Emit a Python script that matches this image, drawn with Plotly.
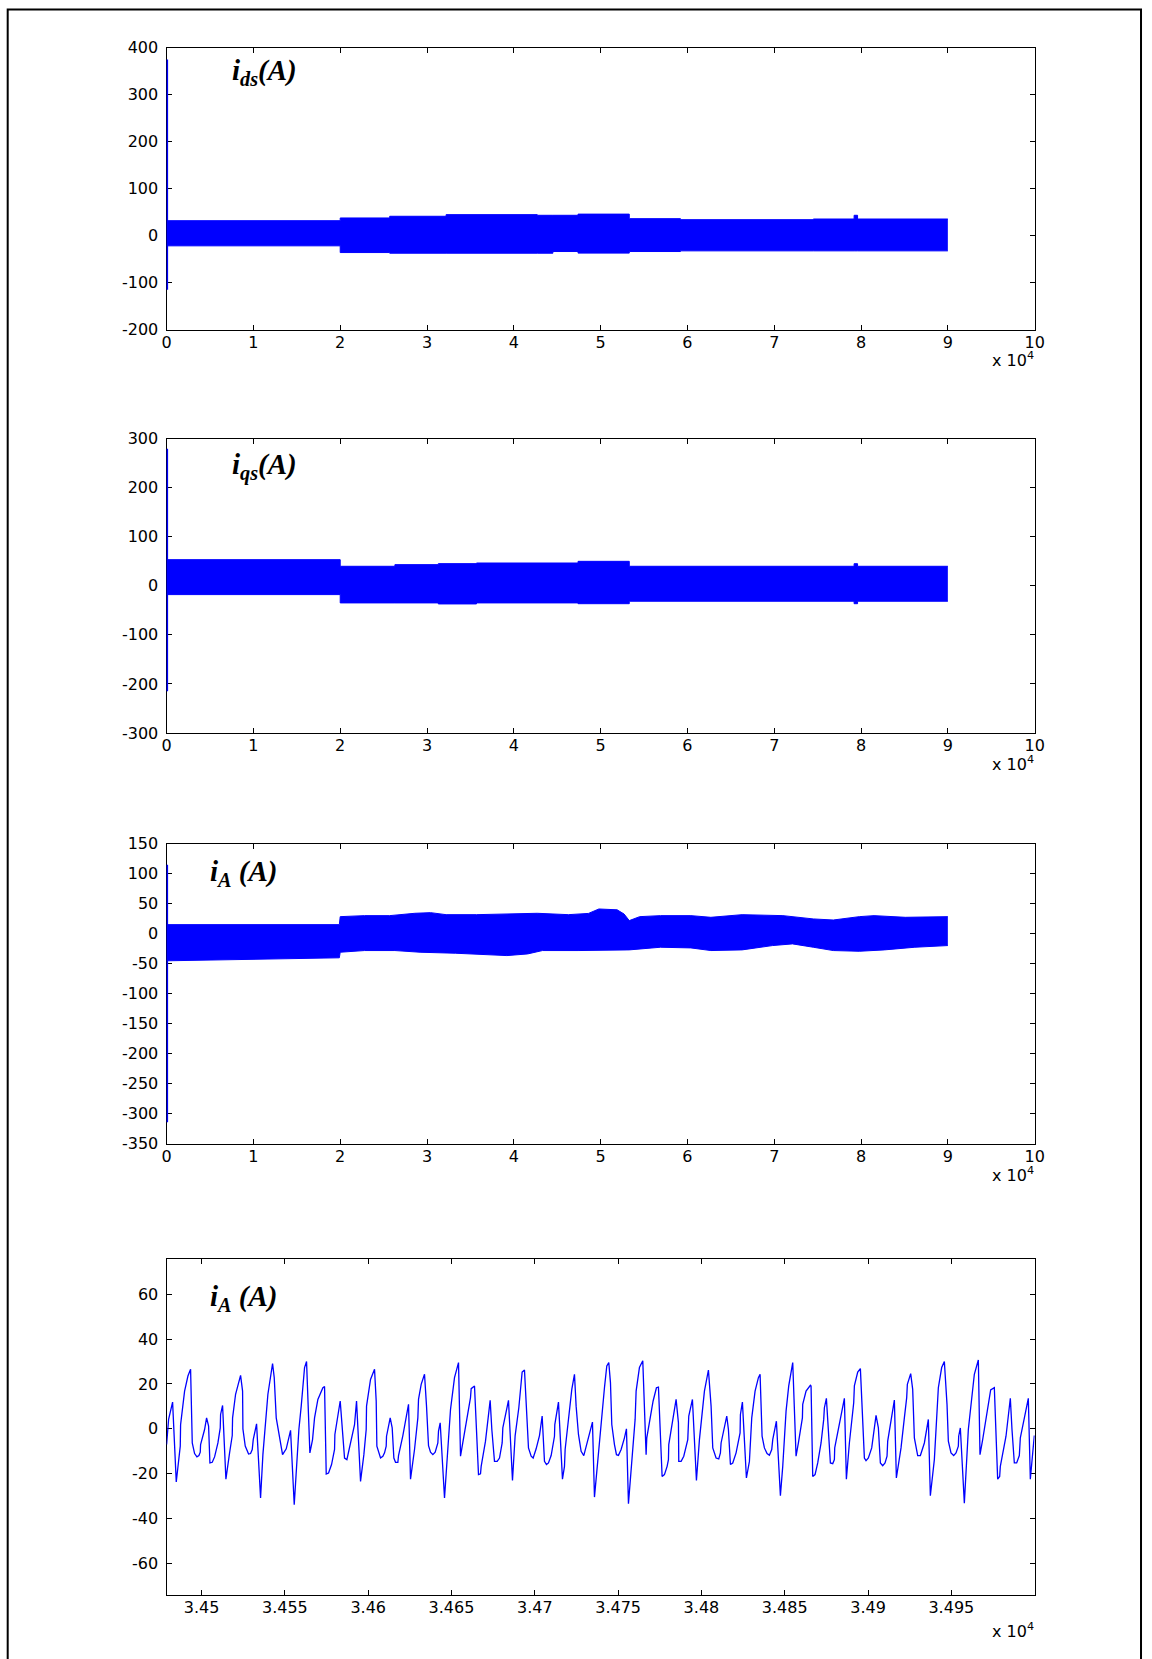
import plotly.graph_objects as go

# ---------------- data ----------------
# panel 1 : i_ds envelope of the dense oscillation (samples, A)
ids_x  = [0, 20000, 25700, 32200, 42700, 44500, 47400, 53300, 59200, 74500, 79200, 79600, 90000]
ids_hi = [32.0, 37.8, 41.4, 44.9, 43.5, 43.5, 46.0, 36.3, 34.2, 35.6, 43.5, 35.6, 35.6]
ids_lo = [-21.5, -35.8, -37.2, -37.2, -37.2, -33.6, -37.0, -33.6, -32.2, -32.2, -32.2, -32.2, -32.2]
ids_spike = [-115, 375]

# panel 2 : i_qs envelope
iqs_x  = [0, 20000, 26300, 31300, 35700, 47400, 53300, 79200, 79600, 90000]
iqs_hi = [53.2, 39.7, 43.1, 45.1, 46.4, 49.8, 39.7, 45.0, 39.7, 39.7]
iqs_lo = [-18.0, -34.9, -34.9, -37.0, -34.9, -36.5, -31.5, -36.5, -31.5, -31.5]
iqs_spike = [-215, 279]

# panel 3 : i_A envelope
iA_hi_x = [0, 19900, 20000, 22800, 25700, 28600, 30400, 32200, 35700, 39200, 42700, 46300,
           48600, 49800, 51900, 52700, 53300, 54500, 56900, 60400, 62700, 66300, 71000,
           74500, 76800, 79800, 81500, 85100, 88600, 90000]
iA_hi = [15.3, 15.3, 28.6, 30.3, 30.3, 34.2, 35.3, 31.9, 31.9, 33.1, 34.2, 31.9,
         34.0, 41.4, 40.0, 33.0, 22.0, 28.6, 30.3, 30.3, 27.5, 31.9, 30.3,
         24.8, 23.0, 28.6, 30.3, 27.5, 27.5, 28.6]
iA_lo_x = [0, 19900, 20000, 22800, 26300, 29200, 33300, 35700, 39200, 41600, 43300, 47400,
           51000, 53300, 56900, 60400, 62700, 66300, 69800, 72100, 74500, 76800, 79800,
           82700, 86200, 90000]
iA_lo = [-45.0, -40.0, -30.7, -27.9, -27.9, -30.7, -32.4, -33.5, -36.3, -33.5, -27.9, -27.9,
         -26.8, -26.8, -22.4, -23.5, -27.9, -26.8, -19.6, -16.8, -22.4, -27.9, -29.1,
         -26.8, -22.4, -19.6]
iA_spike = [-314, 115]

# panel 4 : zoom of i_A (sample index, A)
t_zoom = [34479.0, 34480.2, 34482.6, 34484.8, 34487.2, 34487.4, 34489.8, 34491.8, 34493.4, 34493.8,
          34494.4, 34495.8, 34497.2, 34498.4, 34499.2, 34499.4, 34501.8, 34503.0, 34504.2, 34505.0,
          34506.4, 34507.8, 34509.8, 34511.2, 34511.4, 34512.6, 34514.6, 34516.8, 34518.4, 34518.6,
          34520.4, 34523.4, 34524.6, 34524.8, 34526.2, 34528.2, 34529.4, 34530.4, 34531.0, 34533.0,
          34535.4, 34536.8, 34539.8, 34542.6, 34543.6, 34544.8, 34547.4, 34548.6, 34550.8, 34553.4,
          34555.6, 34558.4, 34559.8, 34561.8, 34563.0, 34565.0, 34566.6, 34567.8, 34569.8, 34572.8,
          34573.8, 34574.8, 34576.2, 34578.0, 34579.8, 34580.0, 34583.2, 34584.4, 34585.8, 34587.2,
          34589.0, 34591.8, 34593.0, 34595.4, 34597.4, 34598.8, 34599.0, 34601.4, 34603.8, 34604.8,
          34605.2, 34607.4, 34608.8,
          34609.8, 34610.8, 34611.0, 34613.2, 34614.4, 34615.4, 34616.4, 34617.8, 34618.2, 34620.8,
          34623.0, 34624.2, 34625.4, 34627.8, 34629.8, 34630.2, 34631.8, 34633.8, 34635.0, 34636.2,
          34637.4, 34638.8, 34640.2, 34641.8, 34642.2, 34643.2, 34645.8, 34649.4, 34651.8, 34654.2,
          34655.4, 34656.8, 34659.4, 34661.4, 34661.8, 34663.8, 34666.2, 34667.4, 34667.8, 34670.4,
          34673.2, 34674.2, 34675.8, 34677.4, 34678.8, 34680.4, 34680.8, 34684.2, 34686.6, 34688.2,
          34690.4, 34692.4, 34693.8, 34696.2, 34697.8, 34699.0, 34700.8, 34702.8, 34704.4, 34705.8,
          34707.0, 34708.2, 34709.8, 34711.8, 34712.0, 34714.2, 34716.6, 34717.8, 34718.2, 34720.2,
          34722.2, 34723.8, 34724.8, 34726.2, 34727.8, 34729.4, 34731.8, 34734.6, 34735.8, 34738.8,
          34741.8,
          34743.2, 34744.4, 34745.4, 34746.2, 34747.8, 34749.0, 34750.2, 34751.8, 34753.8, 34755.0,
          34756.2, 34758.2, 34760.2, 34760.8, 34762.8, 34764.8, 34766.8, 34767.2, 34769.0, 34771.0,
          34773.0, 34774.2, 34776.4, 34777.8, 34779.4, 34780.2, 34780.4, 34784.8, 34786.2, 34786.4,
          34787.8, 34789.4, 34791.8, 34792.4, 34794.6, 34797.0, 34798.8, 34801.8, 34804.2, 34805.8,
          34806.8, 34808.8, 34810.4, 34811.4, 34811.8, 34815.2, 34816.2, 34817.4, 34818.8, 34820.8,
          34823.2, 34823.4, 34824.6, 34827.0, 34828.8, 34830.2, 34832.2, 34834.2, 34835.2, 34836.4,
          34837.8, 34839.4, 34840.8, 34842.2, 34842.8, 34845.0, 34847.4, 34848.8, 34850.8, 34852.4,
          34854.8, 34856.8, 34858.2, 34860.6, 34860.8, 34862.8, 34865.4, 34865.8, 34866.8, 34868.2,
          34869.8, 34871.8, 34873.4, 34873.8, 34875.0, 34877.4, 34878.8, 34879.8, 34880.0, 34882.8,
          34885.8, 34887.0, 34888.8, 34891.4, 34891.8, 34893.8, 34895.4, 34897.8, 34898.8, 34900.2,
          34902.2, 34904.8, 34906.2, 34907.4, 34908.8, 34910.2, 34911.4, 34911.8, 34915.8, 34917.0,
          34919.8, 34921.8, 34923.2, 34923.6, 34925.6, 34926.8, 34927.8, 34929.8, 34931.4, 34933.8,
          34936.2, 34937.4, 34939.8, 34942.2, 34944.2, 34945.8, 34947.4, 34948.2, 34949.8, 34951.4,
          34952.8, 34954.2, 34954.4, 34955.4, 34957.8, 34960.2, 34961.8, 34963.8, 34966.2, 34967.2,
          34968.8, 34971.2, 34973.2, 34973.6, 34975.8, 34977.8, 34979.0, 34979.4, 34982.8, 34985.4,
          34986.4, 34987.8, 34989.2, 34990.8, 34991.4, 34993.8, 34996.2, 34997.4, 34999.2, 34999.8]
iA_zoom = [-7.0, 4.2, 11.9, -23.7, -7.7, 1.9, 16.8, 23.5, 26.5, 11.6,
           -6.3, -11.0, -12.5, -11.9, -10.4, -7.0, -0.3, 4.9, 1.2, -15.2,
           -14.9, -12.5, -6.3, 0.4, 6.4, 10.4, -22.4, -10.7, -3.0, 4.9,
           15.4, 23.8, 16.8, 0.0, -7.7, -11.2, -11.0, -9.2, -4.8, 2.2,
           -30.8, -11.5, 15.4, 29.1, 22.8, 4.9, -7.7, -11.5, -8.9, -0.7,
           -33.8, -0.3, 10.1, 27.3, 30.0, -10.7, -4.8, 4.9, 13.1, 18.3,
           18.8, -20.1, -19.7, -15.9, -9.2, -2.5, 12.4, -0.3, -13.0, -13.7,
           -7.7, 1.9, 12.4, -23.4, -11.5, -0.3, 10.1, 22.0, 26.5, 12.4,
           -7.7, -13.0, -12.2,
           -10.7, -7.7, -3.3, 4.9, 0.4, -13.0, -14.9, -14.9, -11.9, -3.0,
           6.4, 10.9, -22.4, -9.2, 4.9, 13.1, 19.8, 24.3, 10.1, -7.5,
           -10.4, -11.5, -10.4, -6.3, -1.0, 2.7, -30.8, 8.6, 22.8, 29.5,
           -12.2, -6.3, 4.9, 13.9, 17.9, 19.1, -20.4, -20.0, -16.7, -5.5,
           12.7, -0.3, -14.5, -14.5, -13.0, -6.3, 0.4, 12.7, -23.0, -3.0,
           9.4, 25.3, 26.2, -8.5, -12.2, -13.0, -8.9, -3.0, 5.7, -14.5,
           -15.9, -15.2, -11.9, -3.3, 1.9, 11.9, -22.4, -16.7, -9.2, 4.9,
           17.6, 24.3, 10.1, -2.5, -10.0, -11.9, -5.5, 3.0, -30.4, -4.8,
           18.3,
           28.0, 29.5, 20.6, 1.9, -7.0, -11.5, -11.8, -9.2, -4.0, 0.0,
           -33.4, -15.2, 4.2, 16.8, 27.3, 30.3, -11.5, -4.0, 4.2, 12.4,
           18.3, 18.6, -21.2, -20.4, -16.7, -13.7, -7.0, 13.1, 2.7, -14.5,
           -14.5, -12.2, -4.8, 5.7, 13.1, -23.0, -4.8, 16.8, 26.2, 10.1,
           -8.5, -13.0, -13.4, -10.7, -6.3, 5.7, -0.3, -15.9, -15.2, -10.7,
           -1.8, 6.4, 11.9, -21.9, -14.5, 4.9, 16.8, 22.8, 24.3, -3.3,
           -8.5, -11.0, -11.8, -9.2, -4.8, 3.4, -29.8, -16.7, 7.9, 19.1,
           29.5, -12.2, -6.3, 4.9, 10.9, 16.8, 19.4, 19.1, -21.2, -20.4,
           -15.2, -6.3, 4.2, 9.4, 13.6, -15.2, -15.5, -13.7, -8.5, 2.7,
           13.6, -22.4, -6.3, 11.6, 19.1, 25.3, 26.8, -13.0, -14.2, -13.0,
           -8.5, 6.0, 0.4, -15.2, -16.4, -15.2, -12.2, -5.5, 12.8, -21.9,
           -8.5, 4.9, 13.9, 19.8, 24.6, 17.6, -4.0, -11.9, -11.9, -6.3,
           4.2, -29.8, -13.7, 18.3, 27.3, 30.0, 10.9, -5.5, -10.7, -11.9,
           -10.7, -7.7, -3.3, 0.4, -33.1, -0.3, 11.6, 24.3, 30.7, -11.5,
           -4.8, 6.4, 13.9, 17.3, 18.3, -22.4, -21.2, -16.7, -3.3, 13.6,
           -0.3, -15.2, -15.2, -11.9, -4.0, 4.9, 13.6, -22.4, -7.0, -3.0]

# axis ticks / labels
big_ticks = [0, 10000, 20000, 30000, 40000, 50000, 60000, 70000, 80000, 90000, 100000]
big_tick_text = ["0", "1", "2", "3", "4", "5", "6", "7", "8", "9", "10"]
y1_ticks = [-200, -100, 0, 100, 200, 300, 400]
y2_ticks = [-300, -200, -100, 0, 100, 200, 300]
y3_ticks = [-350, -300, -250, -200, -150, -100, -50, 0, 50, 100, 150]
y4_ticks = [-60, -40, -20, 0, 20, 40, 60]
zoom_ticks = [34500, 34550, 34600, 34650, 34700, 34750, 34800, 34850, 34900, 34950]
zoom_tick_text = ["3.45", "3.455", "3.46", "3.465", "3.47", "3.475", "3.48", "3.485", "3.49", "3.495"]

BLUE = "#0000ff"
W, H = 1152, 1659

# The captured picture shows the page slightly reduced and shifted; the
# positions below are wanted picture pixels, mapped back to page pixels.
VIEW_AX, VIEW_SX = 4.3, 0.9876
VIEW_AY, VIEW_SY = 6.7, 0.9903


def px_x(p):
    return ((p - VIEW_AX) / VIEW_SX) / W


def px_y(p):
    return 1 - ((p - VIEW_AY) / VIEW_SY) / H


def ytxt(vals):
    return [str(v) for v in vals]


fig = go.Figure()


def band(xs_lo, lo, xs_hi, hi, spike, xa, ya, shape):
    fig.add_trace(go.Scatter(x=xs_lo, y=lo, mode="lines", line=dict(color=BLUE, width=1, shape=shape),
                             xaxis=xa, yaxis=ya, showlegend=False, hoverinfo="skip"))
    fig.add_trace(go.Scatter(x=xs_hi, y=hi, mode="lines", line=dict(color=BLUE, width=1, shape=shape),
                             fill="tonexty", fillcolor=BLUE,
                             xaxis=xa, yaxis=ya, showlegend=False, hoverinfo="skip"))
    fig.add_trace(go.Scatter(x=[xs_lo[0], xs_lo[0]], y=spike, mode="lines",
                             line=dict(color=BLUE, width=3),
                             xaxis=xa, yaxis=ya, showlegend=False, hoverinfo="skip"))


band(ids_x, ids_lo, ids_x, ids_hi, ids_spike, "x", "y", "hv")
band(iqs_x, iqs_lo, iqs_x, iqs_hi, iqs_spike, "x2", "y2", "hv")
band(iA_lo_x, iA_lo, iA_hi_x, iA_hi, iA_spike, "x3", "y3", "linear")

fig.add_trace(go.Scatter(x=t_zoom, y=iA_zoom, mode="lines", line=dict(color=BLUE, width=1.3),
                         xaxis="x4", yaxis="y4", showlegend=False))

# ---------------- layout (positions in picture pixels) ----------------
xdom = [px_x(166), px_x(1034.6)]

tickfont = dict(family="DejaVu Sans", size=16, color="black")
axis_common = dict(showline=True, linecolor="black", linewidth=1.3, mirror="ticks",
                   ticks="inside", ticklen=5, tickwidth=1, tickcolor="black",
                   showgrid=False, zeroline=False, tickfont=tickfont, layer="below traces")

panels = [
    ("", (45.5, 328), [0, 100000], big_ticks, big_tick_text, [-200, 400], y1_ticks),
    ("2", (437, 732), [0, 100000], big_ticks, big_tick_text, [-300, 300], y2_ticks),
    ("3", (843, 1143.5), [0, 100000], big_ticks, big_tick_text, [-350, 150], y3_ticks),
    ("4", (1259, 1595.5), [34479, 35000], zoom_ticks, zoom_tick_text, [-74, 75.6], y4_ticks),
]

layout = dict(width=W, height=H, margin=dict(l=0, r=0, t=0, b=0),
              paper_bgcolor="white", plot_bgcolor="white", showlegend=False)

for suf, (top, bot), xr, xt, xtt, yr, yt in panels:
    layout["xaxis" + suf] = dict(domain=xdom, range=xr, tickvals=xt, ticktext=xtt,
                                 anchor="y" + suf, ticklabelstandoff=-2, **axis_common)
    layout["yaxis" + suf] = dict(domain=[px_y(bot), px_y(top)], range=yr, tickvals=yt,
                                 ticktext=ytxt(yt), anchor="x" + suf, ticklabelstandoff=4,
                                 **axis_common)

fig.update_layout(**layout)

# panel labels
labels = [
    ("<b><i>i</i></b><sub><b><i>ds</i></b></sub><b><i>(A)</i></b>", 229.5, 69.5),
    ("<b><i>i</i></b><sub><b><i>qs</i></b></sub><b><i>(A)</i></b>", 229.5, 465.5),
    ("<b><i>i</i></b><sub><b><i>A</i></b></sub><b><i> (A)</i></b>", 207.3, 872),
    ("<b><i>i</i></b><sub><b><i>A</i></b></sub><b><i> (A)</i></b>", 207.3, 1298),
]
for txt, px, py in labels:
    fig.add_annotation(text=txt, x=px_x(px), y=px_y(py), xref="paper", yref="paper",
                       xanchor="left", yanchor="middle", showarrow=False,
                       font=dict(family="Liberation Serif", size=29, color="black"))

# exponent labels
for py in [357.5, 762.5, 1174.5, 1631]:
    fig.add_annotation(text="x 10<sup>4</sup>", x=px_x(1036), y=px_y(py), xref="paper", yref="paper",
                       xanchor="right", yanchor="middle", showarrow=False,
                       font=dict(family="DejaVu Sans", size=16, color="black"))

# outer frame (bottom edge lies below the visible page)
fig.add_shape(type="rect", xref="paper", yref="paper",
              x0=px_x(7), x1=min(px_x(1143.5), 1151 / W), y0=-0.03, y1=min(px_y(7), 1 - 0.6 / H),
              line=dict(color="black", width=2), fillcolor="rgba(0,0,0,0)")

# page body without its default margin; no mode bar
fig.write_html("out.html", config={"displayModeBar": False},
               post_script="document.body.style.margin='0';document.body.style.overflow='hidden';")
